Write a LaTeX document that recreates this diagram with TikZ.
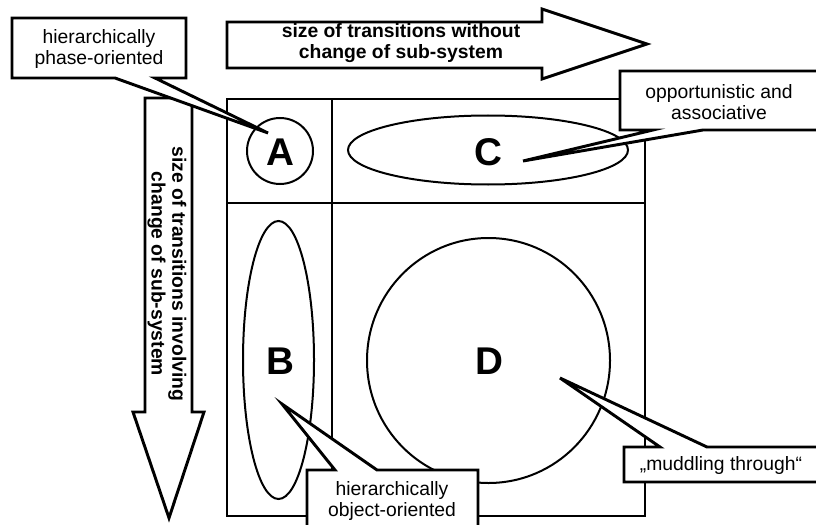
\documentclass[tikz,border=0pt]{standalone}
\usepackage{fontspec}
\setmainfont{Liberation Sans}
\begin{document}
\begin{tikzpicture}[x=0.75pt,y=-0.75pt,
  thickline/.style={line width=2.2pt},
  thinline/.style={line width=1.5pt},
  lbl/.style={font=\fontsize{14.5}{15.5}\selectfont, align=center, inner sep=0pt},
  blbl/.style={font=\fontsize{14.5}{15.5}\selectfont\bfseries, align=center, inner sep=0pt},
  big/.style={font=\fontsize{29}{30}\selectfont\bfseries, inner sep=0pt},
  callout/.style={line width=2.2pt, draw=black, fill=white, line join=miter},
  bigarrow/.style={line width=2.2pt, draw=black, fill=white, line join=miter}]
\useasboundingbox (0,0) rectangle (816,524);

% grid
\draw[thickline] (227,99) rectangle (645,516);
\draw[thickline] (332,99) -- (332,516);
\draw[thickline] (227,203) -- (645,203);

% regions
\draw[thinline] (280,151) circle[radius=33];
\node[big] (A) at (280,152) {A};
\draw[thinline] (488,150) ellipse[x radius=140, y radius=34.5];
\node[big] (C) at (488,152) {C};
\draw[thinline] (278.5,360) ellipse[x radius=35.5, y radius=139];
\node[big] (B) at (280.5,361.5) {B};
\draw[thinline] (488.5,360.5) ellipse[x radius=121.5, y radius=122.5];
\node[big] (D) at (489,361) {D};

% big arrows
\path[bigarrow] (227,22) -- (542,22) -- (542,9) -- (647,44) -- (542,79) -- (542,68) -- (227,68) -- cycle;
\node[blbl] (htext) at (401,43) {size of transitions without\\change of sub-system};
\path[bigarrow] (145,98) -- (192,98) -- (192,412) -- (204,412) -- (169,518) -- (133,412) -- (145,412) -- cycle;
\node[blbl, rotate=-90] (vtext) at (167,274) {size of transitions involving\\change of sub-system};

% callouts
\coordinate (tipA) at (268,133);
\coordinate (tipB) at (282,404);
\coordinate (tipC) at (523,161);
\coordinate (tipD) at (560,378);

\path[callout] (12,18) -- (186,18) -- (186,78) -- (155,78) -- (tipA) -- (115,78) -- (12,78) -- cycle;
\node[lbl] (la) at (99,49) {hierarchically\\phase-oriented};

\path[callout] (620,71) -- (830,71) -- (830,130) -- (703,130) -- (tipC) -- (653,130) -- (620,130) -- cycle;
\node[lbl] (lc) at (719,102) {opportunistic and\\associative};

\path[callout] (624,447) -- (660,447) -- (tipD) -- (707,447) -- (830,447) -- (830,482) -- (624,482) -- cycle;
\node[lbl] (ld) at (721,465) {„muddling through“};

\path[callout] (307,470) -- (335,470) -- (tipB) -- (377,470) -- (478,470) -- (478,540) -- (307,540) -- cycle;
\node[lbl] (lb) at (392,501) {hierarchically\\object-oriented};
\end{tikzpicture}
\end{document}
